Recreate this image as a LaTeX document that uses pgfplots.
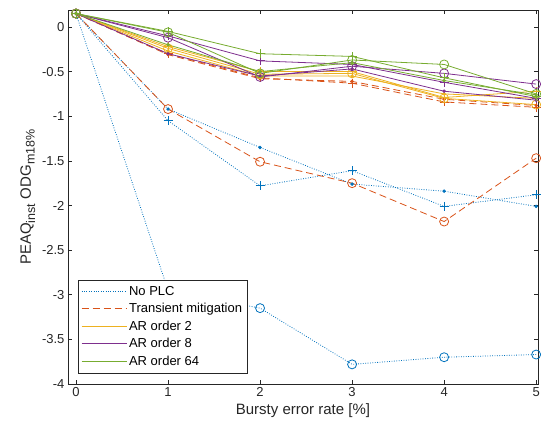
\documentclass[border=0pt]{standalone}
\usepackage{pgfplots}
\pgfplotsset{compat=1.18}
\usepackage{fontspec}
\setmainfont{Liberation Sans}
\definecolor{mblue}{rgb}{0,0.447,0.741}
\definecolor{morange}{rgb}{0.85,0.325,0.098}
\definecolor{myellow}{rgb}{0.929,0.694,0.125}
\definecolor{mpurple}{rgb}{0.494,0.184,0.556}
\definecolor{mgreen}{rgb}{0.466,0.674,0.188}
\definecolor{axgray}{rgb}{0.15,0.15,0.15}
\begin{document}
\begin{tikzpicture}
\begin{axis}[
  scale only axis,
  width=470pt, height=374pt,
  xmin=-0.087, xmax=5.02,
  ymin=-4, ymax=0.19,
  xtick={0,1,2,3,4,5},
  ytick={-4,-3.5,-3,-2.5,-2,-1.5,-1,-0.5,0},
  /pgf/number format/assume math mode=true,
  tick label style={font=\fontsize{13}{15}\selectfont, text=axgray},
  label style={font=\fontsize{15}{17}\selectfont, text=axgray},
  xlabel={Bursty error rate [\%]},
  ylabel={PEAQ\textsubscript{\fontsize{12.5}{14}\selectfont inst} ODG\textsubscript{\fontsize{12.5}{14}\selectfont m18\%}},
  tick align=inside,
  major tick length=4pt,
  axis line style={axgray, line width=0.6pt},
  every tick/.style={axgray, line width=0.6pt},
  clip=false,
  legend style={at={(rel axis cs:0.021,0.029)}, anchor=south west,
    font=\fontsize{13}{15}\selectfont, draw=axgray, line width=0.6pt, fill=white,
    row sep=2.6pt, inner ysep=4pt, inner xsep=3pt},
  legend cell align=left,
  legend image code/.code={\draw[#1, mark=none, line width=0.9pt] (0pt,0pt) -- (45pt,0pt);},
  every axis plot/.append style={line width=0.8pt},
]
% ---- No PLC (dotted, blue)
\addplot[mblue, dash pattern=on 0.8pt off 1.6pt, mark=*, mark size=1.3pt, mark options={solid}] coordinates {(0,0.15) (1,-0.92) (2,-1.35) (3,-1.76) (4,-1.84) (5,-2.01)};
\addlegendentry{No PLC}
\addplot[mblue, dash pattern=on 0.8pt off 1.6pt, mark=+, mark size=4.5pt, mark options={solid}, forget plot] coordinates {(0,0.15) (1,-1.05) (2,-1.78) (3,-1.61) (4,-2.01) (5,-1.88)};
\addplot[mblue, dash pattern=on 0.8pt off 1.6pt, mark=o, mark size=4.5pt, mark options={solid}, forget plot] coordinates {(0,0.15) (1,-2.95) (2,-3.15) (3,-3.78) (4,-3.70) (5,-3.67)};
% ---- Transient mitigation (dashed, orange)
\addplot[morange, dash pattern=on 7pt off 4pt, mark=*, mark size=1.3pt, mark options={solid}] coordinates {(0,0.15) (1,-0.31) (2,-0.58) (3,-0.61) (4,-0.81) (5,-0.88)};
\addlegendentry{Transient mitigation}
\addplot[morange, dash pattern=on 7pt off 4pt, mark=+, mark size=4.5pt, mark options={solid}, forget plot] coordinates {(0,0.15) (1,-0.30) (2,-0.57) (3,-0.63) (4,-0.84) (5,-0.90)};
\addplot[morange, dash pattern=on 7pt off 4pt, mark=o, mark size=4.5pt, mark options={solid}, forget plot] coordinates {(0,0.15) (1,-0.92) (2,-1.51) (3,-1.75) (4,-2.18) (5,-1.47)};
% ---- AR order 2 (yellow)
\addplot[myellow, mark=*, mark size=1.3pt] coordinates {(0,0.15) (1,-0.27) (2,-0.55) (3,-0.55) (4,-0.75) (5,-0.80)};
\addlegendentry{AR order 2}
\addplot[myellow, mark=+, mark size=4.5pt, forget plot] coordinates {(0,0.15) (1,-0.22) (2,-0.50) (3,-0.50) (4,-0.79) (5,-0.72)};
\addplot[myellow, mark=o, mark size=4.5pt, forget plot] coordinates {(0,0.15) (1,-0.24) (2,-0.53) (3,-0.52) (4,-0.80) (5,-0.87)};
% ---- AR order 8 (purple)
\addplot[mpurple, mark=*, mark size=1.3pt] coordinates {(0,0.15) (1,-0.30) (2,-0.55) (3,-0.47) (4,-0.72) (5,-0.82)};
\addlegendentry{AR order 8}
\addplot[mpurple, mark=+, mark size=4.5pt, forget plot] coordinates {(0,0.15) (1,-0.10) (2,-0.38) (3,-0.42) (4,-0.62) (5,-0.80)};
\addplot[mpurple, mark=o, mark size=4.5pt, forget plot] coordinates {(0,0.15) (1,-0.12) (2,-0.56) (3,-0.44) (4,-0.52) (5,-0.64)};
% ---- AR order 64 (green)
\addplot[mgreen, mark=*, mark size=1.3pt] coordinates {(0,0.15) (1,-0.20) (2,-0.50) (3,-0.40) (4,-0.60) (5,-0.76)};
\addlegendentry{AR order 64}
\addplot[mgreen, mark=+, mark size=4.5pt, forget plot] coordinates {(0,0.15) (1,-0.05) (2,-0.30) (3,-0.33) (4,-0.57) (5,-0.78)};
\addplot[mgreen, mark=o, mark size=4.5pt, forget plot] coordinates {(0,0.15) (1,-0.06) (2,-0.52) (3,-0.37) (4,-0.42) (5,-0.75)};
\end{axis}
\pgfresetboundingbox
\path ([xshift=-68pt,yshift=-50pt]current axis.south west) rectangle ([xshift=3pt,yshift=10pt]current axis.north east);
\end{tikzpicture}
\end{document}
